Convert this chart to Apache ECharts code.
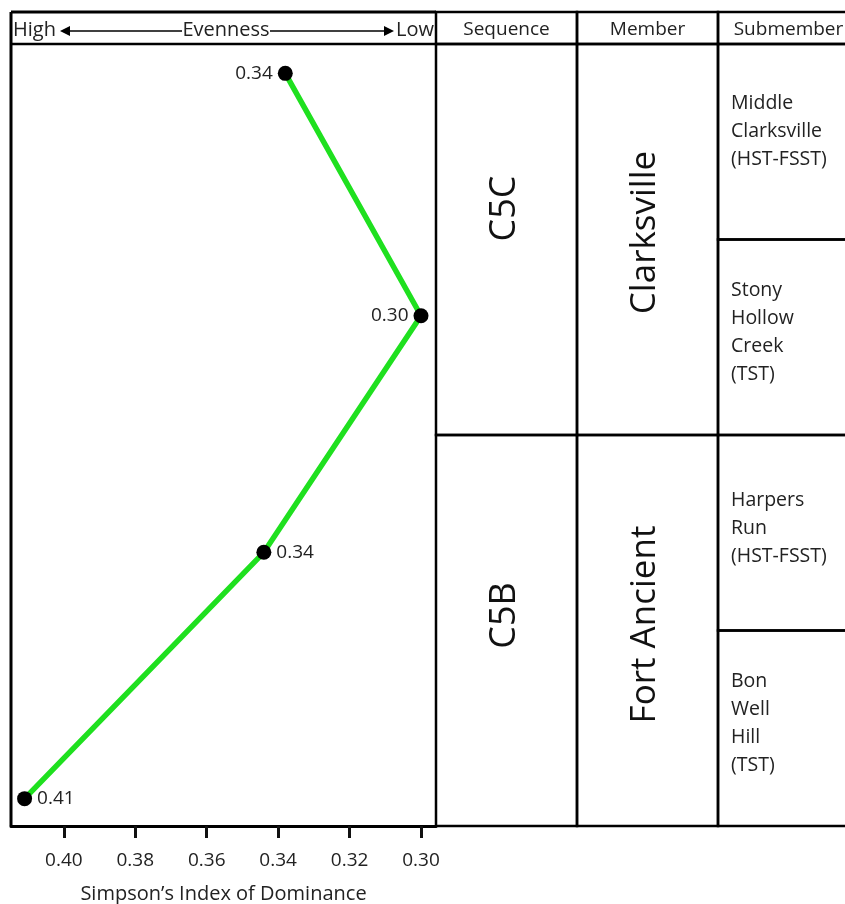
<!DOCTYPE html>
<html><head><meta charset="utf-8">
<script src="https://cdn.jsdelivr.net/npm/echarts@6/dist/echarts.min.js"></script>
<style>html,body{margin:0;padding:0;background:#fff}#c{width:845px;height:904px}</style>
</head><body><div id="c"></div>
<script>
// ---- data ----
const dominance = [0.338, 0.300, 0.344, 0.411];   // Simpson's index of dominance
const position = [3.85, 2.61, 1.40, 0.14];        // stratigraphic position (submember units, bottom = 0)
const labelSide = ['left', 'left', 'right', 'right'];
const tickValues = [0.40, 0.38, 0.36, 0.34, 0.32, 0.30];
const headers = ['Sequence', 'Member', 'Submember'];
const sequenceNames = ['C5C', 'C5B'];
const memberNames = ['Clarksville', 'Fort Ancient'];
const submemberNames = ['Middle\nClarksville\n(HST-FSST)', 'Stony\nHollow\nCreek\n(TST)', 'Harpers\nRun\n(HST-FSST)', 'Bon\nWell\nHill\n(TST)'];
const xTitle = 'Simpson\u2019s Index of Dominance';

// ---- layout ----
const FONT = "'Open Sans', sans-serif";
const LEFT = 11, TOPY = 12, HEADY = 44, BOTY = 826, PR = 436, COLW = 141;
const unitPx = (BOTY - HEADY) / 4;
const headUnits = (HEADY - TOPY) / unitPx;
const seqOffsets = [-31, -15], memOffsets = [-7, -6], subOffsets = [-10, -5, -4, -5];

// build table cells from the names
const cells = [];
headers.forEach((h, i) => cells.push({col: i, y0: 4, y1: 4 + headUnits, text: h, kind: 'head', off: 2}));
sequenceNames.forEach((s, i) => cells.push({col: 0, y0: 4 - 2 * (i + 1), y1: 4 - 2 * i, text: s, kind: 'seq', off: seqOffsets[i]}));
memberNames.forEach((s, i) => cells.push({col: 1, y0: 4 - 2 * (i + 1), y1: 4 - 2 * i, text: s, kind: 'mem', off: memOffsets[i]}));
submemberNames.forEach((s, i) => cells.push({col: 2, y0: 4 - (i + 1), y1: 4 - i, text: s, kind: 'sub', off: subOffsets[i]}));

const chart = echarts.init(document.getElementById('c'), null, {renderer: 'canvas'});

function arrowHead(x, y, dir) {
  return {type: 'polygon', shape: {points: [[x, y], [x - dir * 10, y - 5], [x - dir * 10, y + 5]]}, style: {fill: '#000'}};
}

const option = {
  backgroundColor: '#fff',
  animation: false,
  grid: [
    {left: LEFT, top: HEADY, width: PR - LEFT, height: BOTY - HEADY, outerBoundsMode: 'none', containLabel: false},
    {left: PR, top: TOPY, width: COLW * 3, height: BOTY - TOPY, outerBoundsMode: 'none', containLabel: false}
  ],
  xAxis: [
    {
      gridIndex: 0, type: 'value', inverse: true, min: 0.2958, max: 0.4148,
      axisLine: {show: true, onZero: false, lineStyle: {color: '#000', width: 3}},
      axisTick: {show: true, customValues: tickValues, length: 12, lineStyle: {color: '#111', width: 3}},
      axisLabel: {customValues: tickValues, formatter: v => v.toFixed(2), margin: 25, fontSize: 19, color: '#222', fontFamily: FONT},
      splitLine: {show: false},
      name: xTitle, nameLocation: 'middle', nameGap: 58, nameMoveOverlap: false,
      nameTextStyle: {fontSize: 20, color: '#222', fontFamily: FONT}
    },
    {gridIndex: 1, type: 'value', min: 0, max: 3, show: false}
  ],
  yAxis: [
    {gridIndex: 0, type: 'value', min: 0, max: 4, show: false},
    {gridIndex: 1, type: 'value', min: 0, max: 4 + headUnits, show: false}
  ],
  series: [
    {
      type: 'line', xAxisIndex: 0, yAxisIndex: 0,
      data: dominance.map((d, i) => ({
        value: [d, position[i]],
        label: {position: labelSide[i]}
      })),
      lineStyle: {color: '#1fe01f', width: 5.5},
      symbol: 'circle', symbolSize: 15,
      itemStyle: {color: '#000'},
      label: {show: true, formatter: p => p.value[0].toFixed(2), fontSize: 19, color: '#222', fontFamily: FONT, distance: 5},
      z: 5
    },
    {
      type: 'custom', xAxisIndex: 1, yAxisIndex: 1, clip: false,
      data: cells.map(c => [c.col, c.y0, c.y1]),
      encode: {x: 0, y: [1, 2]},
      renderItem: function (params, api) {
        const cell = cells[params.dataIndex];
        const c = api.value(0), y0 = api.value(1), y1 = api.value(2);
        const p0 = api.coord([c, y1]);
        const p1 = api.coord([c + 1, y0]);
        const cx = (p0[0] + p1[0]) / 2, cy = (p0[1] + p1[1]) / 2;
        const rect = {type: 'rect', shape: {x: p0[0], y: p0[1], width: p1[0] - p0[0], height: p1[1] - p0[1]},
          style: {fill: 'none', stroke: '#000', lineWidth: 2.5}};
        let text;
        if (cell.kind === 'head') {
          text = {type: 'text', x: cx, y: cy + cell.off, style: {text: cell.text, x: 0, y: 0, align: 'center', verticalAlign: 'middle', font: '19px ' + FONT, fill: '#222'}};
        } else if (cell.kind === 'seq' || cell.kind === 'mem') {
          text = {type: 'text', x: cx - 2, y: cy + cell.off, rotation: Math.PI / 2,
            style: {text: cell.text, x: 0, y: 0, align: 'center', verticalAlign: 'middle', font: (cell.kind === 'seq' ? '36px ' : '35px ') + FONT, fill: '#111'}};
        } else {
          text = {type: 'text', x: p0[0] + 13, y: cy + cell.off,
            style: {text: cell.text, x: 0, y: 0, align: 'left', verticalAlign: 'middle', font: '19.5px ' + FONT, lineHeight: 28, fill: '#222'}};
        }
        return {type: 'group', children: [rect, text]};
      },
      z: 2
    }
  ],
  graphic: [
    {type: 'line', shape: {x1: LEFT, y1: TOPY, x2: PR, y2: TOPY}, style: {stroke: '#000', lineWidth: 3}},
    {type: 'line', shape: {x1: LEFT, y1: HEADY, x2: PR, y2: HEADY}, style: {stroke: '#000', lineWidth: 2.5}},
    {type: 'line', shape: {x1: LEFT, y1: TOPY, x2: LEFT, y2: BOTY}, style: {stroke: '#000', lineWidth: 3}},
    {type: 'text', x: 13, y: 30, style: {text: 'High', align: 'left', verticalAlign: 'middle', font: '20px ' + FONT, fill: '#222'}},
    {type: 'line', shape: {x1: 64, y1: 31, x2: 182, y2: 31}, style: {stroke: '#000', lineWidth: 1.5}},
    arrowHead(60, 31, -1),
    {type: 'text', x: 226, y: 30, style: {text: 'Evenness', align: 'center', verticalAlign: 'middle', font: '20px ' + FONT, fill: '#222'}},
    {type: 'line', shape: {x1: 270, y1: 31, x2: 388, y2: 31}, style: {stroke: '#000', lineWidth: 1.5}},
    arrowHead(394, 31, 1),
    {type: 'text', x: 434, y: 30, style: {text: 'Low', align: 'right', verticalAlign: 'middle', font: '20px ' + FONT, fill: '#222'}}
  ]
};
chart.setOption(option);
</script>
</body></html>
